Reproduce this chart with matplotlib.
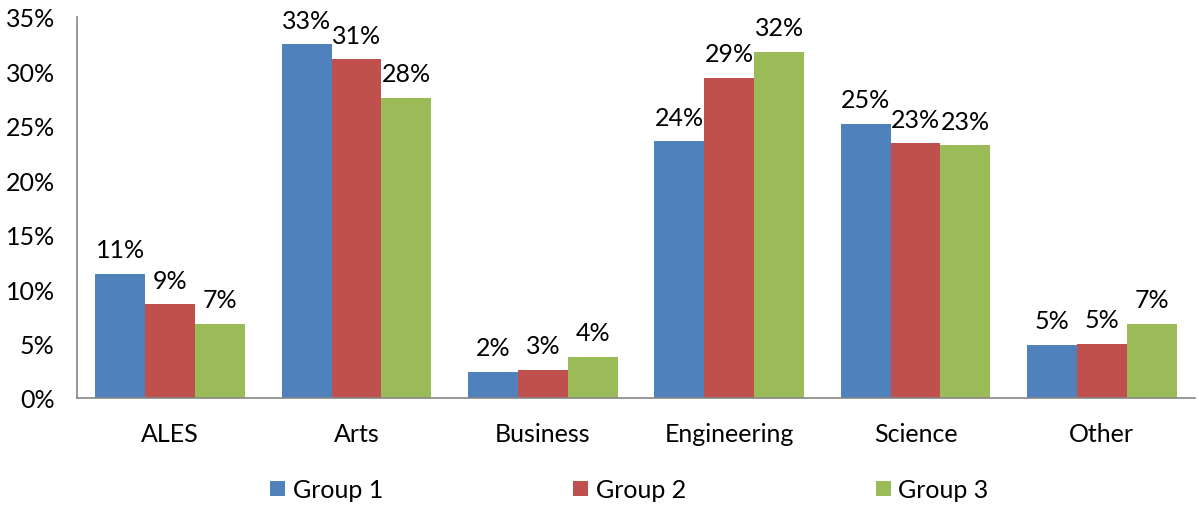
import matplotlib
matplotlib.use("Agg")
import matplotlib.pyplot as plt
import numpy as np
from matplotlib.ticker import FuncFormatter

categories = ["ALES", "Arts", "Business", "Engineering", "Science", "Other"]
series_names = ["Group 1", "Group 2", "Group 3"]
group1 = [11.4, 32.5, 2.4, 23.6, 25.2, 4.9]
group2 = [8.6, 31.1, 2.6, 29.4, 23.4, 5.0]
group3 = [6.8, 27.6, 3.8, 31.8, 23.2, 6.8]
colors = ["#4F81BD", "#C0504D", "#9BBB59"]
yticks = [0, 5, 10, 15, 20, 25, 30, 35]

plt.rcParams['font.family'] = ['Lato', 'DejaVu Sans']
FS = 18

fig = plt.figure(figsize=(11.99, 5.06), dpi=100)
ax = fig.add_axes([0.0642, 0.2115, 0.9325, 0.753])

x = np.arange(len(categories))
w = 0.268
handles = []
for i, (vals, name, c) in enumerate(zip([group1, group2, group3], series_names, colors)):
    pos = x + (i - 1) * w
    b = ax.bar(pos, vals, width=w, color=c, label=name, zorder=2)
    handles.append(b)
    for px, v in zip(pos, vals):
        ax.annotate(f"{int(np.floor(v + 0.5))}%", (px, v), xytext=(0, 9),
                    textcoords="offset points", ha="center", va="bottom",
                    fontsize=FS, color="black")

ax.set_xlim(-0.5, len(categories) - 0.5)
ax.set_ylim(0, 35)
ax.set_yticks(yticks)
ax.yaxis.set_major_formatter(FuncFormatter(lambda v, p: f"{int(v)}%"))
ax.set_xticks(x)
ax.set_xticklabels(categories)
ax.tick_params(axis='both', length=0, labelsize=FS, colors="black")
ax.tick_params(axis='x', pad=17)
ax.tick_params(axis='y', pad=16)
for s in ["top", "right"]:
    ax.spines[s].set_visible(False)
for s in ["left", "bottom"]:
    ax.spines[s].set_color("#868686")
    ax.spines[s].set_linewidth(1.2)

fig.legend(handles=handles, labels=series_names, loc="center", bbox_to_anchor=(0.525, 0.03),
           ncol=3, frameon=False, fontsize=FS, handlelength=0.6, handleheight=0.6,
           handletextpad=0.3, columnspacing=7.6)

fig.savefig("out.png", dpi=100)
